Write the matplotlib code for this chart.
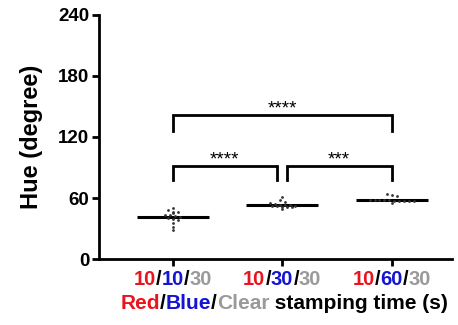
import numpy as np
import matplotlib.pyplot as plt
from matplotlib.offsetbox import TextArea, HPacker, AnnotationBbox

plt.rcParams['font.family'] = ['Liberation Sans', 'DejaVu Sans']

# hue values per group
g1 = [49.9, 48.2, 46.5, 46.5, 44.9, 43.3, 43.3, 42.3, 41.0, 40.0, 39.0, 38.5, 35.1, 31.8, 28.5]
g2 = [60.7, 58.0, 56.3, 55.0, 54.0, 53.5, 53.3, 53.0, 52.5, 52.0, 52.0, 51.5, 51.4, 51.2, 48.9]
g3 = [63.6, 63.3, 62.2, 58.4, 58.2, 58.0, 57.8, 57.6, 57.4, 57.2, 57.0, 56.8, 56.6, 54.8]
groups = [g1, g2, g3]

# tick labels as (red, blue, clear) parts
tick_parts = [("10", "10", "30"), ("10", "30", "30"), ("10", "60", "30")]
yticks = [0, 60, 120, 180, 240]

# significance brackets: (x start, x end, height, label)
brackets = [(0.0, 0.95, 91.5, "****"),
            (1.04, 2.0, 91.5, "***"),
            (0.0, 2.0, 141.6, "****")]

RED = '#e8141e'
BLUE = '#1414d2'
GRAY = '#9a9a9a'


def swarm_offsets(vals, bin_h=3.0, step=0.045):
    # GraphPad-like: bin by value, spread points sideways within a bin
    vals = np.asarray(vals)
    bins = np.round(vals / bin_h).astype(int)
    offs = np.zeros(len(vals))
    for b in np.unique(bins):
        idx = np.where(bins == b)[0]
        n = len(idx)
        offs[idx] = (np.arange(n) - (n - 1) / 2) * step
    return offs


fig = plt.figure(figsize=(4.58, 3.25), dpi=100)
ax = fig.add_axes([0.216, 0.203, 0.771, 0.751])

for i, vals in enumerate(groups):
    offs = swarm_offsets(vals)
    ax.scatter(i + offs, vals, s=4, color='#333333', linewidths=0, zorder=3)
    m = np.mean(vals)
    ax.plot([i - 0.33, i + 0.33], [m, m], color='black', lw=2.2, zorder=2,
            solid_capstyle='butt')

for x0, x1, h, lab in brackets:
    drop = 16 if h > 120 else 14
    ax.plot([x0, x0, x1, x1], [h - drop, h, h, h - drop], color='black', lw=2,
            solid_joinstyle='miter', clip_on=False)
    ax.text((x0 + x1) / 2, h - 2, lab, ha='center', va='bottom', fontsize=13.5)

ax.set_xlim(-0.673, 2.55)
ax.set_ylim(0, 240)
ax.set_yticks(yticks)
ax.set_yticklabels([str(t) for t in yticks], fontsize=13.5, fontweight='bold')
ax.set_xticks([0, 1, 2])
ax.set_xticklabels([])
for s in ['top', 'right']:
    ax.spines[s].set_visible(False)
for s in ['left', 'bottom']:
    ax.spines[s].set_linewidth(2)
ax.tick_params(width=2, length=5, pad=2)
ax.set_ylabel('Hue (degree)', fontsize=17, fontweight='bold', labelpad=11)

txt = dict(fontsize=14.5, fontweight='bold')
for i, (r, b, c) in enumerate(tick_parts):
    parts = [TextArea(r, textprops=dict(color=RED, **txt)),
             TextArea("/", textprops=dict(color='black', **txt)),
             TextArea(b, textprops=dict(color=BLUE, **txt)),
             TextArea("/", textprops=dict(color='black', **txt)),
             TextArea(c, textprops=dict(color=GRAY, **txt))]
    box = HPacker(children=parts, pad=0, sep=0)
    ab = AnnotationBbox(box, (i, 0), xycoords=('data', 'axes fraction'),
                        xybox=(0, -8), boxcoords='offset points',
                        box_alignment=(0.5, 1), frameon=False, pad=0)
    ax.add_artist(ab)

lt = dict(fontsize=15, fontweight='bold')
label_parts = [TextArea("Red", textprops=dict(color=RED, **lt)),
               TextArea("/", textprops=dict(color='black', **lt)),
               TextArea("Blue", textprops=dict(color=BLUE, **lt)),
               TextArea("/", textprops=dict(color='black', **lt)),
               TextArea("Clear", textprops=dict(color=GRAY, **lt)),
               TextArea(" stamping time (s)", textprops=dict(color='black', **lt))]
lbox = HPacker(children=label_parts, pad=0, sep=0)
lab = AnnotationBbox(lbox, (1.02, 0), xycoords=('data', 'axes fraction'),
                     xybox=(0, -25), boxcoords='offset points',
                     box_alignment=(0.5, 1), frameon=False, pad=0)
ax.add_artist(lab)

fig.savefig('out.png', dpi=100)
